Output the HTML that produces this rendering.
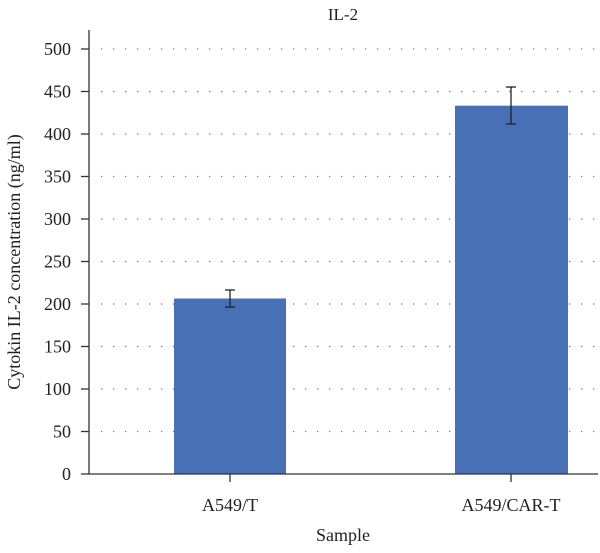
<!DOCTYPE html>
<html><head><style>body{margin:0;background:#fff}</style></head><body>
<svg width="600" height="548" xmlns="http://www.w3.org/2000/svg" font-family="Liberation Serif, serif" fill="#222">
<text x="343" y="20" font-size="17" text-anchor="middle">IL-2</text>
<g stroke="#777" stroke-width="1.3" stroke-dasharray="1.3 10.7">
<line x1="101" x2="598" y1="49" y2="49"/><line x1="101" x2="598" y1="91.5" y2="91.5"/>
<line x1="101" x2="598" y1="134" y2="134"/><line x1="101" x2="598" y1="176.5" y2="176.5"/>
<line x1="101" x2="598" y1="219" y2="219"/><line x1="101" x2="598" y1="261.5" y2="261.5"/>
<line x1="101" x2="598" y1="304" y2="304"/><line x1="101" x2="598" y1="346.5" y2="346.5"/>
<line x1="101" x2="598" y1="389" y2="389"/><line x1="101" x2="598" y1="431.5" y2="431.5"/>
</g>
<rect x="174" y="298.5" width="112" height="175.5" fill="#4870b7"/>
<rect x="455" y="105.7" width="113" height="368.3" fill="#4870b7"/>
<g stroke="#222" stroke-width="1.3">
<line x1="230" x2="230" y1="290" y2="307"/><line x1="225" x2="235" y1="290" y2="290"/><line x1="225" x2="235" y1="307" y2="307"/>
<line x1="511" x2="511" y1="87" y2="124"/><line x1="506" x2="516" y1="87" y2="87"/><line x1="506" x2="516" y1="124" y2="124"/>
</g>
<g stroke="#333" stroke-width="1.3">
<line x1="89" x2="89" y1="30" y2="474"/><line x1="81" x2="598" y1="474" y2="474"/>
<line x1="230" x2="230" y1="474" y2="482"/><line x1="511" x2="511" y1="474" y2="482"/>
<line x1="81" x2="89" y1="49" y2="49"/><line x1="81" x2="89" y1="91.5" y2="91.5"/>
<line x1="81" x2="89" y1="134" y2="134"/><line x1="81" x2="89" y1="176.5" y2="176.5"/>
<line x1="81" x2="89" y1="219" y2="219"/><line x1="81" x2="89" y1="261.5" y2="261.5"/>
<line x1="81" x2="89" y1="304" y2="304"/><line x1="81" x2="89" y1="346.5" y2="346.5"/>
<line x1="81" x2="89" y1="389" y2="389"/><line x1="81" x2="89" y1="431.5" y2="431.5"/>
</g>
<g font-size="18" text-anchor="end">
<text x="71" y="55">500</text><text x="71" y="97.5">450</text><text x="71" y="140">400</text>
<text x="71" y="182.5">350</text><text x="71" y="225">300</text><text x="71" y="267.5">250</text>
<text x="71" y="310">200</text><text x="71" y="352.5">150</text><text x="71" y="395">100</text>
<text x="71" y="437.5">50</text><text x="71" y="480">0</text>
</g>
<g font-size="18" text-anchor="middle">
<text x="230" y="511">A549/T</text><text x="511" y="511">A549/CAR-T</text>
<text x="343" y="541">Sample</text>
<text transform="translate(20,262) rotate(-90)">Cytokin IL-2 concentration (ng/ml)</text>
</g>
</svg>
</body></html>
